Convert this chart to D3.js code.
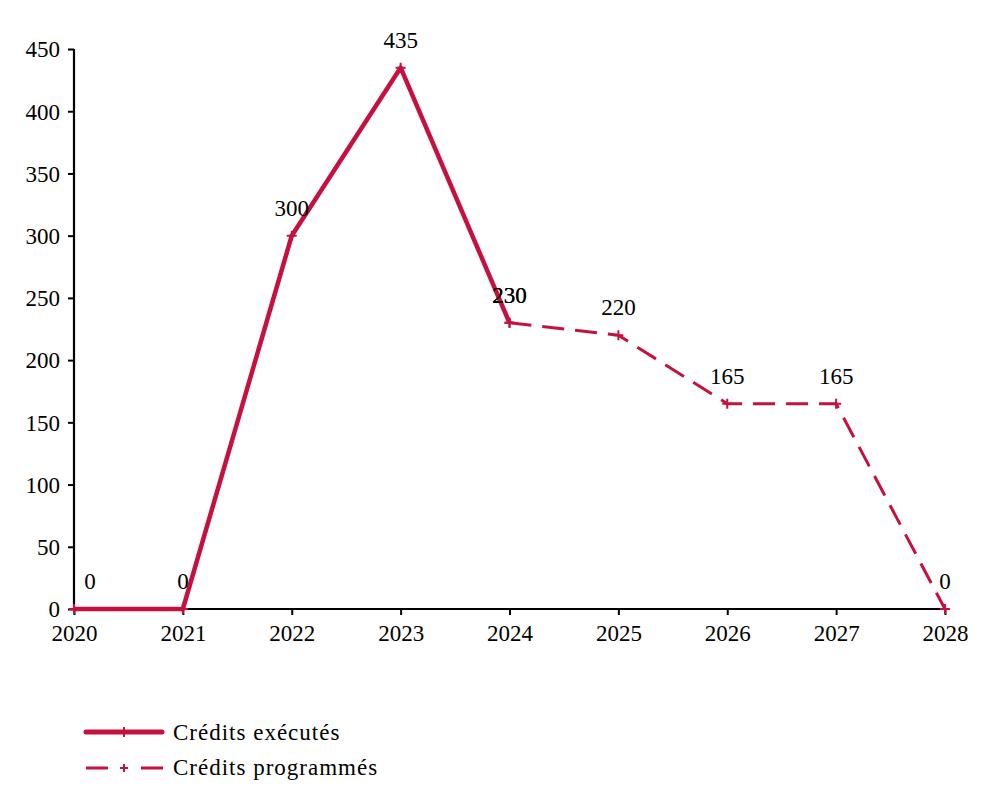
<!DOCTYPE html>
<html><head><meta charset="utf-8">
<script src="https://cdn.jsdelivr.net/npm/d3@7"></script>
<style>
body{margin:0;background:#fff;}
text{font-family:"Liberation Serif","Times New Roman",serif;fill:#000;}
</style></head><body>
<svg id="c" width="996" height="795"></svg>
<script>
const years = [2020,2021,2022,2023,2024,2025,2026,2027,2028];
const executedYears = [2020,2021,2022,2023,2024];
const executedValues = [0,0,300,435,230];
const programmedYears = [2024,2025,2026,2027,2028];
const programmedValues = [230,220,165,165,0];
const yTicks = [0,50,100,150,200,250,300,350,400,450];
const seriesNames = ["Crédits exécutés","Crédits programmés"];
const color = "#C8103F";

const svg = d3.select("#c");
const x = d3.scaleLinear().domain([2020,2028]).range([74,945]);
const y = d3.scaleLinear().domain([0,450]).range([609,49]);
const fs = 23;

// axes
const yAxis = svg.append("g").attr("transform","translate(74,0)")
  .call(d3.axisLeft(y).tickValues(yTicks).tickSize(6).tickPadding(8).tickFormat(d3.format("d")));
const xAxis = svg.append("g").attr("transform","translate(0,609)")
  .call(d3.axisBottom(x).tickValues(years).tickSize(6).tickPadding(8).tickFormat(d3.format("d")));
[yAxis,xAxis].forEach(a=>{
  a.selectAll("path").attr("stroke","#000").attr("stroke-width",2.2);
  a.selectAll("line").attr("stroke","#000").attr("stroke-width",2);
  a.selectAll("text").style("font-size",fs+"px");
});
yAxis.select(".domain").attr("d",`M0,${y(450)}V${y(0)}`);
xAxis.select(".domain").attr("d",`M${x(2020)},0H${x(2028)}`);
yAxis.selectAll("text").attr("dy","0.34em");
xAxis.selectAll("text").attr("dy","0.8em");

const line = d3.line().x(d=>x(d[0])).y(d=>y(d[1]));
const ex = executedYears.map((t,i)=>[t,executedValues[i]]);
const pr = programmedYears.map((t,i)=>[t,programmedValues[i]]);

svg.append("path").datum(pr).attr("d",line).attr("fill","none")
  .attr("stroke",color).attr("stroke-width",3).attr("stroke-dasharray","22,11");
svg.append("path").datum(ex).attr("d",line).attr("fill","none")
  .attr("stroke",color).attr("stroke-width",4.5).attr("stroke-linejoin","round");

function cross(g,cx,cy,s){
  g.append("path").attr("d",`M${cx-s},${cy}H${cx+s}M${cx},${cy-s}V${cy+s}`)
   .attr("stroke",color).attr("stroke-width",2).attr("fill","none");
}
const mk = svg.append("g");
ex.concat(pr).forEach(d=>cross(mk,x(d[0]),y(d[1]),5));

// labels
const lab = svg.append("g");
ex.concat(pr).forEach((d,i)=>{
  lab.append("text").attr("x",x(d[0])+(i===0?16:0)).attr("y",y(d[1])-20)
    .attr("text-anchor","middle").style("font-size",fs+"px").text(d[1]);
});

// legend
const lg = svg.append("g");
lg.append("line").attr("x1",86).attr("x2",162).attr("y1",732).attr("y2",732)
  .attr("stroke",color).attr("stroke-width",5).attr("stroke-linecap","round");
cross(lg,124,732,5);
lg.append("line").attr("x1",86).attr("x2",108).attr("y1",768).attr("y2",768)
  .attr("stroke",color).attr("stroke-width",3);
lg.append("line").attr("x1",141).attr("x2",163).attr("y1",768).attr("y2",768)
  .attr("stroke",color).attr("stroke-width",3);
cross(lg,124,768,4);
lg.selectAll("text.l").data(seriesNames).enter().append("text")
  .attr("x",173).attr("y",(d,i)=>740+i*35).style("font-size","23px")
  .style("letter-spacing","1px").text(d=>d);
</script></body></html>
